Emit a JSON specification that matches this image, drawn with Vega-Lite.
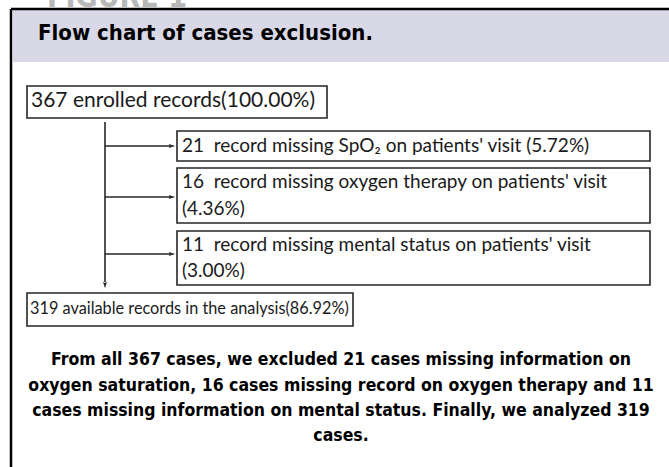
{
  "$schema": "https://vega.github.io/schema/vega-lite/v6.json",
  "autosize": "none",
  "width": 669,
  "height": 467,
  "padding": 0,
  "background": "white",
  "config": {"view": {"stroke": null}},
  "datasets": {
    "band": [{"x": 13, "x2": 669, "y": 10, "y2": 62}],
    "frame": [
      {"x": 11, "y": 9, "x2": 669, "y2": 9},
      {"x": 11, "y": 9, "x2": 11, "y2": 467}
    ],
    "boxes": [
      {"box": "enrolled", "x": 27, "x2": 327, "y": 86, "y2": 118},
      {"box": "spo2", "x": 177, "x2": 650, "y": 131, "y2": 161},
      {"box": "oxygen", "x": 177, "x2": 650, "y": 168, "y2": 223},
      {"box": "mental", "x": 177, "x2": 650, "y": 231, "y2": 285},
      {"box": "available", "x": 27, "x2": 353, "y": 293, "y2": 326}
    ],
    "flow": [
      {"x": 105, "y": 122, "x2": 105, "y2": 282},
      {"x": 105, "y": 146, "x2": 170, "y2": 146},
      {"x": 105, "y": 197, "x2": 170, "y2": 197},
      {"x": 105, "y": 254, "x2": 170, "y2": 254}
    ],
    "headsRight": [
      {"x": 172, "y": 146},
      {"x": 172, "y": 197},
      {"x": 172, "y": 254}
    ],
    "headsDown": [{"x": 105, "y": 285}],
    "figure": [{"x": 47, "y": 6.5, "label": "FIGURE 1"}],
    "title": [{"x": 38, "y": 33, "label": "Flow chart of cases exclusion."}],
    "boxText1": [
      {"x": 31, "y": 101, "label": "367 enrolled records(100.00%)"}
    ],
    "boxText": [
      {"x": 182, "y": 146, "label": "21 \u00a0record missing SpO₂ on patients' visit (5.72%)"},
      {"x": 182, "y": 182, "label": "16 \u00a0record missing oxygen therapy on patients' visit"},
      {"x": 182, "y": 209, "label": "(4.36%)"},
      {"x": 182, "y": 245, "label": "11 \u00a0record missing mental status on patients' visit"},
      {"x": 182, "y": 271, "label": "(3.00%)"}
    ],
    "boxText5": [
      {"x": 30, "y": 309, "label": "319 available records in the analysis(86.92%)"}
    ],
    "caption": [
      {"x": 341, "y": 360, "label": "From all 367 cases, we excluded 21 cases missing information on"},
      {"x": 341, "y": 386, "label": "oxygen saturation, 16 cases missing record on oxygen therapy and 11"},
      {"x": 341, "y": 411, "label": "cases missing information on mental status. Finally, we analyzed 319"},
      {"x": 341, "y": 436, "label": "cases."}
    ]
  },
  "layer": [
    {
      "data": {"name": "band"},
      "mark": {"type": "rect", "fill": "#d9d8e7", "strokeWidth": 0},
      "encoding": {
        "x": {"field": "x", "type": "quantitative", "axis": null, "scale": {"domain": [0, 669], "nice": false, "zero": false}},
        "x2": {"field": "x2"},
        "y": {"field": "y", "type": "quantitative", "axis": null, "scale": {"domain": [0, 467], "nice": false, "zero": false, "reverse": true}},
        "y2": {"field": "y2"}
      }
    },
    {
      "data": {"name": "frame"},
      "mark": {"type": "rule", "color": "#000000", "strokeWidth": 2.5},
      "encoding": {
        "x": {"field": "x", "type": "quantitative"},
        "x2": {"field": "x2"},
        "y": {"field": "y", "type": "quantitative"},
        "y2": {"field": "y2"}
      }
    },
    {
      "data": {"name": "boxes"},
      "mark": {"type": "rect", "fill": "white", "stroke": "#262626", "strokeWidth": 1.6},
      "encoding": {
        "x": {"field": "x", "type": "quantitative"},
        "x2": {"field": "x2"},
        "y": {"field": "y", "type": "quantitative"},
        "y2": {"field": "y2"}
      }
    },
    {
      "data": {"name": "flow"},
      "mark": {"type": "rule", "color": "#262626", "strokeWidth": 1.6},
      "encoding": {
        "x": {"field": "x", "type": "quantitative"},
        "x2": {"field": "x2"},
        "y": {"field": "y", "type": "quantitative"},
        "y2": {"field": "y2"}
      }
    },
    {
      "data": {"name": "headsRight"},
      "mark": {"type": "point", "shape": "M-1,-0.6L1,0L-1,0.6L-0.6,0Z", "filled": true, "color": "#262626", "size": 45, "opacity": 1},
      "encoding": {
        "x": {"field": "x", "type": "quantitative"},
        "y": {"field": "y", "type": "quantitative"}
      }
    },
    {
      "data": {"name": "headsDown"},
      "mark": {"type": "point", "shape": "M-0.6,-1L0,1L0.6,-1L0,-0.6Z", "filled": true, "color": "#262626", "size": 45, "opacity": 1},
      "encoding": {
        "x": {"field": "x", "type": "quantitative"},
        "y": {"field": "y", "type": "quantitative"}
      }
    },
    {
      "data": {"name": "figure"},
      "mark": {"type": "text", "align": "left", "baseline": "alphabetic", "font": "DejaVu Sans Condensed, sans-serif", "fontWeight": "bold", "fontSize": 30, "color": "#b8b8b8"},
      "encoding": {
        "x": {"field": "x", "type": "quantitative"},
        "y": {"field": "y", "type": "quantitative"},
        "text": {"field": "label"}
      }
    },
    {
      "data": {"name": "title"},
      "mark": {"type": "text", "align": "left", "baseline": "middle", "font": "DejaVu Sans Condensed, sans-serif", "fontWeight": "bold", "fontSize": 22, "color": "#000000"},
      "encoding": {
        "x": {"field": "x", "type": "quantitative"},
        "y": {"field": "y", "type": "quantitative"},
        "text": {"field": "label"}
      }
    },
    {
      "data": {"name": "boxText1"},
      "mark": {"type": "text", "align": "left", "baseline": "middle", "font": "Lato, Open Sans, sans-serif", "fontSize": 21, "color": "#1a1a1a"},
      "encoding": {
        "x": {"field": "x", "type": "quantitative"},
        "y": {"field": "y", "type": "quantitative"},
        "text": {"field": "label"}
      }
    },
    {
      "data": {"name": "boxText"},
      "mark": {"type": "text", "align": "left", "baseline": "middle", "font": "Lato, Open Sans, sans-serif", "fontSize": 19, "color": "#1a1a1a"},
      "encoding": {
        "x": {"field": "x", "type": "quantitative"},
        "y": {"field": "y", "type": "quantitative"},
        "text": {"field": "label"}
      }
    },
    {
      "data": {"name": "boxText5"},
      "mark": {"type": "text", "align": "left", "baseline": "middle", "font": "Lato, Open Sans, sans-serif", "fontSize": 16.3, "color": "#1a1a1a"},
      "encoding": {
        "x": {"field": "x", "type": "quantitative"},
        "y": {"field": "y", "type": "quantitative"},
        "text": {"field": "label"}
      }
    },
    {
      "data": {"name": "caption"},
      "mark": {"type": "text", "align": "center", "baseline": "middle", "font": "DejaVu Sans Condensed, sans-serif", "fontWeight": "bold", "fontSize": 17.5, "color": "#000000"},
      "encoding": {
        "x": {"field": "x", "type": "quantitative"},
        "y": {"field": "y", "type": "quantitative"},
        "text": {"field": "label"}
      }
    }
  ]
}
